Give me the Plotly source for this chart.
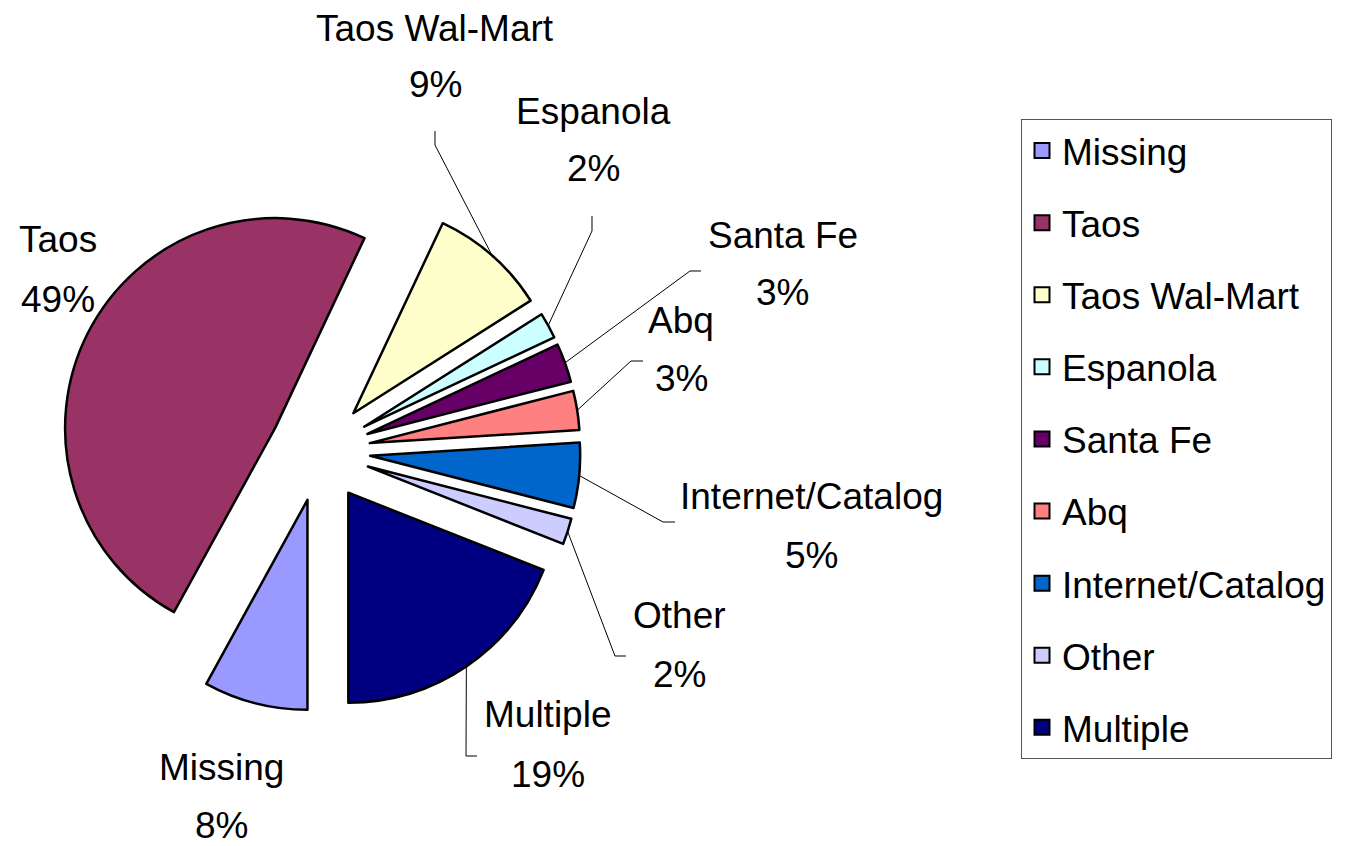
import math
import plotly.graph_objects as go

# ---------------- data ----------------
categories = ["Missing", "Taos", "Taos Wal-Mart", "Espanola", "Santa Fe",
              "Abq", "Internet/Catalog", "Other", "Multiple"]
shares = [8, 49, 9, 2, 3, 3, 5, 2, 19]
colors = ["#9999FF", "#993366", "#FFFFCC", "#CCFFFF", "#660066",
          "#FF8080", "#0066CC", "#CCCCFF", "#000080"]

# ---------------- layout constants (pixels) ----------------
W, H = 1353, 846
CX, CY = 312, 443          # pie centre
R = 210                    # pie radius
PULL = 0.24                # explosion
FONT = "Liberation Sans, Arial, sans-serif"
FS = 37

# label positions: (x centre, y of name line, y of percent line)
label_pos = {
    "Missing": (213, 768, 826),
    "Taos": (50, 240, 300),
    "Taos Wal-Mart": (427, 29, 86),
    "Espanola": (585, 112, 169),
    "Santa Fe": (775, 236, 293),
    "Abq": (673, 322, 379),
    "Internet/Catalog": (803, 497, 556),
    "Other": (671, 616, 675),
    "Multiple": (540, 715, 775),
}
# leader line elbow + end near the label
leaders = {
    "Taos Wal-Mart": [(427, 137), (427, 123)],
    "Espanola": [(584, 223), (584, 208)],
    "Santa Fe": [(682, 263), (693, 263)],
    "Abq": [(623, 353), (635, 353)],
    "Internet/Catalog": [(655, 514), (667, 514)],
    "Other": [(607, 648), (618, 648)],
    "Multiple": [(458, 748), (469, 748)],
}


def px(x):
    return x / W


def py(y):
    return 1 - y / H


half = R * (1 + PULL)
fig = go.Figure()
fig.add_trace(go.Pie(
    labels=categories, values=shares, sort=False, direction="clockwise",
    rotation=180, pull=PULL, textinfo="none", showlegend=False,
    marker=dict(colors=colors, line=dict(color="black", width=2.5)),
    domain=dict(x=[px(CX - half), px(CX + half)], y=[py(CY + half), py(CY - half)]),
))

# legend entries
for c, col in zip(categories, colors):
    fig.add_trace(go.Scatter(
        x=[None], y=[None], mode="markers", name=c, legendgroup=c,
        marker=dict(symbol="square", size=15, color=col,
                    line=dict(color="black", width=2)),
    ))

total = sum(shares)
annotations = []
shapes = []
start = 180.0
for c, v in zip(categories, shares):
    span = 360.0 * v / total
    mid = math.radians(start + span / 2)
    start += span
    pct = f"{round(100 * v / total)}%"
    x, yn, yp = label_pos[c]
    for txt, yy in ((c, yn), (pct, yp)):
        annotations.append(dict(
            x=px(x), y=py(yy - 9), xref="paper", yref="paper", text=txt,
            showarrow=False, xanchor="center", yanchor="middle",
            font=dict(family=FONT, size=FS, color="black"),
        ))
    if c in leaders:
        sx = CX + half * math.sin(mid)
        sy = CY - half * math.cos(mid)
        pts = [(sx, sy)] + leaders[c]
        path = "M " + " L ".join(f"{px(a):.5f},{py(b):.5f}" for a, b in pts)
        shapes.append(dict(type="path", path=path, xref="paper", yref="paper",
                           line=dict(color="black", width=1)))

shapes.append(dict(type="line", xref="paper", yref="paper",
                   x0=px(1346), x1=px(1346), y0=0, y1=1,
                   line=dict(color="black", width=2)))

fig.update_layout(
    width=W, height=H, margin=dict(l=0, r=0, t=0, b=0),
    paper_bgcolor="white", plot_bgcolor="white",
    xaxis=dict(visible=False), yaxis=dict(visible=False),
    annotations=annotations, shapes=shapes,
    legend=dict(x=px(1013), y=py(111), xanchor="left", yanchor="top",
                font=dict(family=FONT, size=FS, color="black"),
                bordercolor="#555555", borderwidth=1, bgcolor="white",
                tracegroupgap=21),
    hovermode=False,
)

fig.write_html("out.html")
